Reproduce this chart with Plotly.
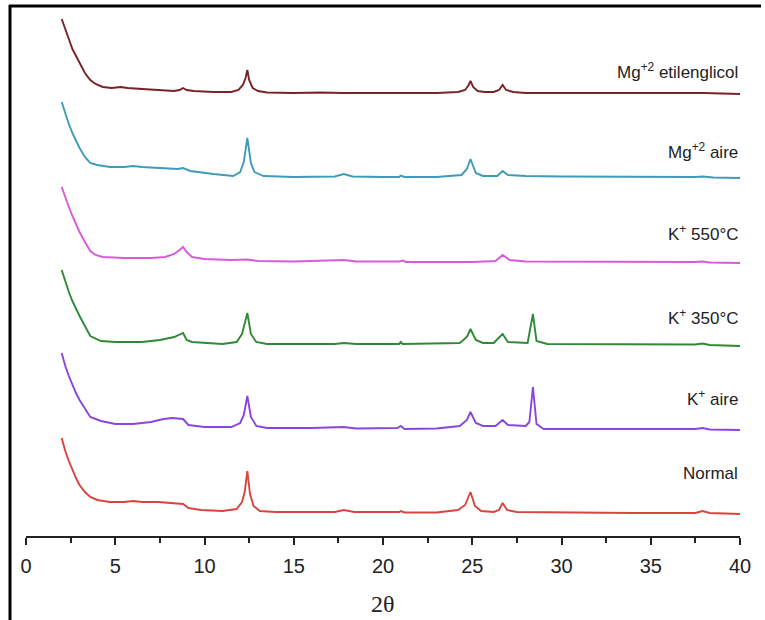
import plotly.graph_objects as go

# ---------------- data ----------------
names = ["Normal", "K<sup>+</sup> aire", "K<sup>+</sup> 350°C",
         "K<sup>+</sup> 550°C", "Mg<sup>+2</sup> aire", "Mg<sup>+2</sup> etilenglicol"]
colors = ["#d8443e", "#8a45de", "#2f8a36", "#d95ad9", "#3e9cb8", "#7a2227"]
offsets = [22, 106, 190, 273, 358, 442]          # vertical stacking offsets
label_y = [63, 138, 219, 303, 385, 465]           # label heights

x_normal = [2.0, 2.2, 2.4, 2.6, 2.8, 3.0, 3.3, 3.6, 4.0, 4.7, 5.5, 6.0, 6.5, 7.4, 8.3, 8.8, 9.1, 9.8, 11.0,
            11.8, 12.1, 12.25, 12.4, 12.55, 12.75, 13.1, 14.0, 16.0, 17.3, 17.8, 18.4, 20.0, 20.9, 21.0, 21.2,
            23.0, 24.2, 24.6, 24.9, 25.15, 25.5, 26.2, 26.5, 26.7, 26.95, 27.5, 30.0, 34.0, 37.5, 37.9, 38.3, 40.0]
y_normal = [76, 63, 53, 44, 36, 29, 22, 17, 14, 12, 12, 13, 12, 12, 11, 10, 6, 4, 3,
            5, 12, 22, 43, 20, 8, 3, 2, 2, 2, 4, 2, 2, 2, 3, 1.5,
            1.5, 4, 9, 22, 8, 3, 2, 4, 11, 4, 2, 1.5, 1, 1, 3, 1, 0]

x_kaire = [2.0, 2.2, 2.4, 2.6, 2.8, 3.0, 3.3, 3.6, 4.2, 5.0, 6.0, 7.0, 7.7, 8.2, 8.8, 9.1, 10.0, 11.5,
           12.0, 12.2, 12.4, 12.6, 12.9, 13.5, 16.0, 17.8, 18.5, 20.8, 21.0, 21.2, 23.0, 24.3, 24.7, 24.9,
           25.2, 25.6, 26.3, 26.7, 27.0, 28.0, 28.2, 28.4, 28.6, 29.0, 33.0, 37.5, 37.9, 38.3, 40.0]
y_kaire = [77, 64, 54, 45, 37, 30, 21, 13, 9, 6, 6, 8, 11, 12, 11, 5, 3, 3,
           7, 15, 34, 13, 4, 2, 2, 3, 1.5, 2, 4, 1, 1.5, 4, 10, 18,
           7, 4, 4, 10, 5, 4, 8, 43, 6, 1, 1, 1, 2, 0.5, 0]

x_k350 = [2.0, 2.2, 2.4, 2.6, 2.8, 3.0, 3.3, 3.6, 4.2, 5.0, 6.5, 7.5, 8.3, 8.8, 9.0, 9.3, 11.0,
          11.8, 12.1, 12.4, 12.6, 12.9, 13.5, 17.3, 17.8, 18.5, 20.9, 21.0, 21.1, 24.3, 24.7, 24.9, 25.2,
          25.6, 26.2, 26.7, 27.0, 28.1, 28.4, 28.6, 29.2, 33.0, 37.5, 37.9, 38.3, 40.0]
y_k350 = [76, 64, 54, 45, 37, 30, 20, 10, 5, 4, 4, 6, 9, 13, 6, 4, 2,
          4, 12, 33, 12, 4, 2, 2, 3, 2, 2, 4, 2, 3, 9, 17, 6,
          3, 3, 12, 4, 3, 32, 5, 2, 1.5, 1.5, 2.5, 1, 0]

x_k550 = [2.0, 2.2, 2.4, 2.6, 2.8, 3.0, 3.3, 3.6, 3.9, 4.3, 5.5, 7.0, 7.8, 8.3, 8.6, 8.8, 9.0, 9.3,
          10.0, 11.5, 12.4, 13.0, 15.0, 17.8, 18.5, 20.9, 21.1, 21.3, 25.0, 26.3, 26.7, 27.1, 28.0,
          32.0, 37.5, 37.9, 38.3, 40.0]
y_k550 = [76, 65, 56, 47, 39, 31, 21, 12, 8, 6, 5, 5, 6, 9, 13, 16, 11, 6,
          4, 3, 3.5, 2, 1.5, 3, 1.5, 1.5, 2.5, 1, 1, 2, 8, 3, 1.5,
          1, 1, 1.5, 0.5, 0]

x_mgaire = [2.0, 2.2, 2.4, 2.6, 2.8, 3.0, 3.3, 3.6, 4.0, 4.7, 5.5, 6.0, 6.5, 7.4, 8.5, 8.8, 9.2, 10.5,
            11.6, 12.0, 12.2, 12.4, 12.6, 12.8, 13.3, 15.0, 17.3, 17.8, 18.3, 20.0, 20.9, 21.0, 21.2,
            23.0, 24.4, 24.7, 24.9, 25.2, 25.6, 26.4, 26.7, 27.0, 28.0, 30.0, 35.0, 37.5, 37.9, 38.5, 40.0]
y_mgaire = [76, 64, 54, 45, 37, 30, 21, 15, 13, 11, 11, 12, 11, 10, 9, 10, 7, 4,
            2, 6, 16, 40, 15, 6, 2, 1, 1.5, 4, 1.5, 1, 1, 2.5, 1,
            1, 3, 9, 19, 5, 2, 2, 7, 3, 2, 1.5, 1, 1, 1.5, 0.5, 0]

x_mgetil = [2.0, 2.2, 2.4, 2.6, 2.8, 3.0, 3.3, 3.6, 3.9, 4.3, 4.8, 5.3, 5.7, 6.5, 7.5, 8.3, 8.6, 8.8,
            9.0, 9.4, 10.5, 11.5, 11.9, 12.15, 12.3, 12.4, 12.5, 12.7, 13.0, 13.5, 15.0, 16.5, 17.8, 19.0,
            21.0, 23.0, 24.2, 24.6, 24.8, 24.9, 25.05, 25.3, 25.7, 26.2, 26.5, 26.7, 26.9, 27.3, 28.0,
            30.0, 33.0, 36.0, 38.0, 40.0]
y_mgetil = [75, 64, 55, 45, 38, 30, 21, 14, 10, 7, 6, 7, 6, 5, 4, 3, 4, 6,
            4, 3, 2, 2, 4, 9, 16, 24, 14, 6, 3, 1.5, 1, 1.5, 1, 1,
            1.5, 1, 2, 4, 9, 13, 7, 3, 2, 2, 4, 9, 4, 2, 1,
            1, 0.5, 0.5, 1, 0]

xs = [x_normal, x_kaire, x_k350, x_k550, x_mgaire, x_mgetil]
ys = [y_normal, y_kaire, y_k350, y_k550, y_mgaire, y_mgetil]

x_ticks = [0, 5, 10, 15, 20, 25, 30, 35, 40]

# ---------------- figure ----------------
fig = go.Figure()
for name, col, off, xv, yv in zip(names, colors, offsets, xs, ys):
    fig.add_trace(go.Scatter(x=xv, y=[v + off for v in yv], mode="lines",
                             line=dict(color=col, width=1.9), name=name,
                             showlegend=False, hoverinfo="skip"))

for name, ly in zip(names, label_y):
    fig.add_annotation(x=40, y=ly, xref="x", yref="y", text=name, showarrow=False,
                       xanchor="right", yanchor="middle",
                       font=dict(family="Liberation Sans, Arial", size=17, color="#222"))

fig.add_annotation(x=20, y=0, xref="x", yref="paper", text="2θ", showarrow=False,
                   xanchor="center", yanchor="middle", yshift=-68,
                   font=dict(family="Liberation Serif, Times New Roman", size=24, color="#222"))

W, H = 765, 620
L, R, T, B = 26, 25, 10, 84
pw, ph = W - L - R, H - T - B
def px(x): return (x - L) / pw
def py(y): return (H - B - y) / ph

fig.add_shape(type="line", xref="paper", yref="paper", x0=px(10), x1=px(10), y0=py(5), y1=py(625),
              line=dict(color="black", width=3))
fig.add_shape(type="line", xref="paper", yref="paper", x0=px(9), x1=px(761), y0=py(6), y1=py(6),
              line=dict(color="black", width=3))

fig.update_layout(
    width=W, height=H, margin=dict(l=L, r=R, t=T, b=B),
    paper_bgcolor="white", plot_bgcolor="white",
    xaxis=dict(range=[0, 40], tickvals=x_ticks, showgrid=False, zeroline=False,
               showline=True, linecolor="#222", linewidth=1.5,
               ticks="outside", ticklen=7, tickwidth=1.5, tickcolor="#222",
               ticklabelstandoff=4,
               tickfont=dict(family="Liberation Sans, Arial", size=20, color="#222"),
               minor=dict(dtick=2.5, ticks="outside", ticklen=5, tickwidth=1.5, tickcolor="#222")),
    yaxis=dict(range=[0, ph], visible=False, showgrid=False, zeroline=False),
)

fig.write_html("out.html", config={"displayModeBar": False},
               post_script="document.body.style.margin='0';")
